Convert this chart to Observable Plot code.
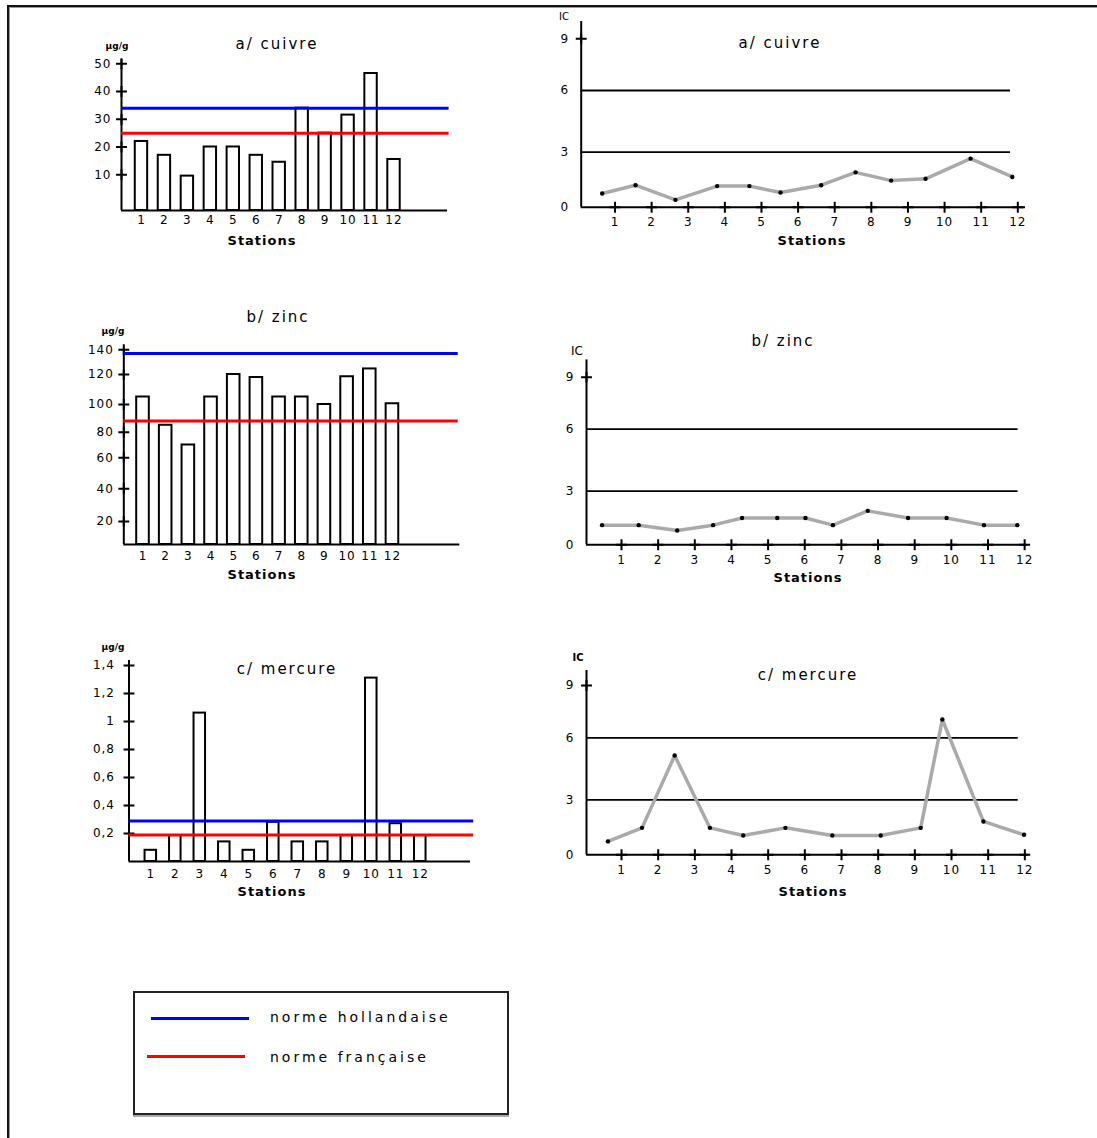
<!DOCTYPE html>
<html>
<head>
<meta charset="utf-8">
<script src="https://cdn.jsdelivr.net/npm/d3@7"></script>
<script src="https://cdn.jsdelivr.net/npm/@observablehq/plot@0.6"></script>
<style>
  body { margin: 0; background: #fff; }
  #page { position: relative; width: 1097px; height: 1138px; overflow: hidden; font-family: "DejaVu Sans", sans-serif; color: #000; }
  .lbl { position: absolute; transform: translate(-50%, -50%); white-space: nowrap; line-height: 1; }
  .title { font-size: 15px; letter-spacing: 2px; }
  .unit { font-size: 9px; font-weight: bold; }
  .stations { font-size: 13px; font-weight: bold; letter-spacing: 1px; }
  .ic { font-size: 10px; }
  #border { position: absolute; left: 7px; top: 5px; right: -5px; bottom: -5px; border-top: 2px solid #111; border-left: 2px solid #111; box-shadow: inset 1px 1px 0 #999; }
  #legend { position: absolute; left: 133px; top: 991px; width: 376px; height: 124px; box-sizing: border-box; border: 2px solid #222; box-shadow: 0 2px 0 #aaa; background: #fff; }
  .swatch { position: absolute; height: 3px; }
  .legtext { position: absolute; transform: translateY(-50%); font-size: 14px; letter-spacing: 3px; white-space: nowrap; line-height: 1; }
</style>
</head>
<body>
<div id="page"><div id="border"></div></div>
<script>
// ---------------- data ----------------
const stationNum = [1, 2, 3, 4, 5, 6, 7, 8, 9, 10, 11, 12];
const stationLabels = ["1", "2", "3", "4", "5", "6", "7", "8", "9", "10", "11", "12"];

// concentrations (µg/g) per station
const cuivre = [22, 17, 9.5, 20, 20, 17, 14.5, 34, 25, 31.5, 46.5, 15.5];
const zinc = [105, 85, 70, 105, 120, 118, 105, 105, 100, 118.5, 124.5, 100.5];
const mercure = [0.08, 0.185, 1.06, 0.14, 0.08, 0.28, 0.14, 0.14, 0.185, 1.31, 0.27, 0.185];

// norms: cuivre, zinc, mercure
const normeHollandaise = [34, 137, 0.29];
const normeFrancaise = [25, 88, 0.19];

// y tick values of the concentration panels
const ticksCuivre = [10, 20, 30, 40, 50];
const ticksZinc = [20, 40, 60, 80, 100, 120, 140];
const ticksMercure = [0.2, 0.4, 0.6, 0.8, 1, 1.2, 1.4];

// contamination index (IC): position along the station axis and value
const icCuivreX = [0.65, 1.56, 2.65, 3.79, 4.67, 5.52, 6.63, 7.57, 8.54, 9.48, 10.71, 11.85];
const icCuivre  = [0.75, 1.2, 0.4, 1.15, 1.15, 0.8, 1.2, 1.9, 1.45, 1.55, 2.65, 1.65];
const icZincX = [0.47, 1.47, 2.52, 3.5, 4.29, 5.25, 6.02, 6.77, 7.72, 8.82, 9.87, 10.89, 11.8];
const icZinc  = [1.1, 1.1, 0.8, 1.1, 1.5, 1.5, 1.5, 1.1, 1.9, 1.5, 1.5, 1.1, 1.1];
const icMercureX = [0.63, 1.56, 2.45, 3.41, 4.32, 5.47, 6.75, 8.07, 9.16, 9.75, 10.87, 11.98];
const icMercure  = [0.73, 1.47, 5.14, 1.47, 1.05, 1.47, 1.05, 1.05, 1.47, 7.05, 1.82, 1.09];

const icTickLabels = [0, 3, 6, 9];
const icCrossTicks = [9];
const icSeuils = [3, 6];

// ---------------- drawing ----------------
const page = document.getElementById("page");
const svgStyle = "position:absolute;left:0;top:0;background:transparent;overflow:visible;font-family:'DejaVu Sans',sans-serif;letter-spacing:1px;";
const fmtComma = d => String(d).replace(".", ",");
const crossR = 3.6;

function barPanel(cfg) {
  const data = cfg.values.map((v, i) => ({s: stationNum[i], label: stationLabels[i], v}));
  const [x0, x1] = cfg.xDomain;
  const y0 = cfg.yDomain[0];
  return Plot.plot({
    width: 1097, height: 1138, margin: 0,
    style: svgStyle,
    x: {type: "linear", domain: cfg.xDomain, range: cfg.xRange, axis: null},
    y: {type: "linear", domain: cfg.yDomain, range: cfg.yRange, axis: null},
    marks: [
      Plot.rect(data, {x1: d => d.s - cfg.half, x2: d => d.s + cfg.half, y1: y0, y2: "v", fill: "white", stroke: "black", strokeWidth: 2}),
      Plot.ruleY([y0], {x1: x0, x2: x1, stroke: "black", strokeWidth: 2}),
      Plot.ruleX([x0], {y1: y0, y2: cfg.yTop, stroke: "black", strokeWidth: 2}),
      Plot.dot(cfg.ticks, {x: x0, y: d => d, symbol: "plus", r: crossR, stroke: "black", strokeWidth: 2}),
      Plot.text(cfg.ticks, {x: x0, y: d => d, text: cfg.fmt, dx: cfg.tickDx, textAnchor: "end", fontSize: 12}),
      Plot.text(data, {x: "s", y: y0, text: "label", dy: cfg.xLabelDy, fontSize: 12}),
      Plot.ruleY([cfg.hol], {x1: x0, x2: cfg.lineEnd, stroke: "#0000ff", strokeWidth: 3}),
      Plot.ruleY([cfg.fra], {x1: x0, x2: cfg.lineEnd, stroke: "#ff0000", strokeWidth: 3})
    ]
  });
}

function icPanel(cfg) {
  const data = cfg.xs.map((x, i) => ({x, v: cfg.values[i]}));
  const [x0, x1] = cfg.xDomain;
  return Plot.plot({
    width: 1097, height: 1138, margin: 0,
    style: svgStyle,
    x: {type: "linear", domain: cfg.xDomain, range: cfg.xRange, axis: null},
    y: {type: "linear", domain: [0, 3, 6, 9], range: cfg.yRange, axis: null},
    marks: [
      Plot.ruleY(icSeuils, {x1: x0, x2: cfg.lineEnd, stroke: "black", strokeWidth: 1.8}),
      Plot.ruleY([0], {x1: x0, x2: x1, stroke: "black", strokeWidth: 2}),
      Plot.ruleX([x0], {y1: 0, y2: cfg.yTop, stroke: "black", strokeWidth: 2}),
      Plot.dot(stationNum, {x: d => d, y: 0, symbol: "plus", r: crossR, stroke: "black", strokeWidth: 2}),
      Plot.dot(icCrossTicks, {x: x0, y: d => d, symbol: "plus", r: crossR, stroke: "black", strokeWidth: 2}),
      Plot.text(icTickLabels, {x: x0, y: d => d, text: d => String(d), dx: -12, textAnchor: "end", fontSize: 12}),
      Plot.text(stationNum, {x: d => d, y: 0, text: d => stationLabels[d - 1], dy: cfg.xLabelDy, fontSize: 12}),
      Plot.line(data, {x: "x", y: "v", stroke: "#aaaaaa", strokeWidth: 3.5}),
      Plot.dot(data, {x: "x", y: "v", r: 2.2, fill: "black"})
    ]
  });
}

page.append(barPanel({
  values: cuivre, hol: normeHollandaise[0], fra: normeFrancaise[0],
  xDomain: [0.13, 14.33], xRange: [121, 447],
  yDomain: [-2.9, 50], yRange: [210, 63.3], yTop: 51.5,
  ticks: ticksCuivre, fmt: d => String(d), half: 0.27, tickDx: -10, xLabelDy: 9.5, lineEnd: 14.4
}));
page.append(barPanel({
  values: zinc, hol: normeHollandaise[1], fra: normeFrancaise[1],
  xDomain: [0.153, 14.97], xRange: [123.3, 459.3],
  yDomain: [0, 20, 40, 60, 80, 100, 120, 140], yRange: [544, 521, 488.3, 457.3, 431.7, 404, 374, 349.3], yTop: 141,
  ticks: ticksZinc, fmt: d => String(d), half: 0.278, tickDx: -10, xLabelDy: 12, lineEnd: 14.9
}));
page.append(barPanel({
  values: mercure, hol: normeHollandaise[2], fra: normeFrancaise[2],
  xDomain: [0.11, 14.05], xRange: [128.5, 470],
  yDomain: [0, 1.4], yRange: [861, 665], yTop: 1.414,
  ticks: ticksMercure, fmt: fmtComma, half: 0.235, tickDx: -14, xLabelDy: 13, lineEnd: 14.18
}));
page.append(icPanel({
  xs: icCuivreX, values: icCuivre,
  xDomain: [0.077, 12.21], xRange: [580.7, 1025],
  yRange: [206.7, 151.7, 90, 38.3], yTop: 10, lineEnd: 11.8, xLabelDy: 15
}));
page.append(icPanel({
  xs: icZincX, values: icZinc,
  xDomain: [0.045, 12.07], xRange: [586, 1026.7],
  yRange: [544.3, 490.7, 428.7, 376.7], yTop: 10, lineEnd: 11.82, xLabelDy: 15.7
}));
page.append(icPanel({
  xs: icMercureX, values: icMercure,
  xDomain: [0.045, 12.1], xRange: [586, 1028],
  yRange: [854.3, 799.3, 737.3, 685], yTop: 9.86, lineEnd: 11.82, xLabelDy: 15.7
}));

// ---------------- texts ----------------
function label(text, cls, x, y, extra) {
  const d = document.createElement("div");
  d.className = "lbl " + cls;
  d.textContent = text;
  d.style.left = x + "px";
  d.style.top = y + "px";
  if (extra) Object.assign(d.style, extra);
  page.append(d);
}
label("a/ cuivre", "title", 277, 44);
label("µg/g", "unit", 117, 46);
label("Stations", "stations", 262, 240);
label("a/ cuivre", "title", 780, 43);
label("IC", "ic", 564, 17);
label("Stations", "stations", 812, 240);

label("b/ zinc", "title", 278, 317);
label("µg/g", "unit", 113, 331);
label("Stations", "stations", 262, 574);
label("b/ zinc", "title", 783, 341);
label("IC", "ic", 577, 351, {fontSize: "12px"});
label("Stations", "stations", 808, 577);

label("c/ mercure", "title", 287, 669);
label("µg/g", "unit", 113, 647);
label("Stations", "stations", 272, 891);
label("c/ mercure", "title", 808, 675);
label("IC", "ic", 578, 658, {fontWeight: "bold"});
label("Stations", "stations", 813, 891);

// ---------------- legend ----------------
const legend = document.createElement("div");
legend.id = "legend";
page.append(legend);
function swatch(color, x1, x2, y) {
  const s = document.createElement("div");
  s.className = "swatch";
  s.style.background = color;
  s.style.left = x1 + "px";
  s.style.width = (x2 - x1) + "px";
  s.style.top = (y - 1.5) + "px";
  page.append(s);
}
function legText(text, x, y) {
  const t = document.createElement("div");
  t.className = "legtext";
  t.textContent = text;
  t.style.left = x + "px";
  t.style.top = y + "px";
  page.append(t);
}
swatch("#0000ff", 151, 249, 1018);
swatch("#ff0000", 147, 245, 1056);
legText("norme hollandaise", 270, 1017);
legText("norme française", 270, 1057);
</script>
</body>
</html>
